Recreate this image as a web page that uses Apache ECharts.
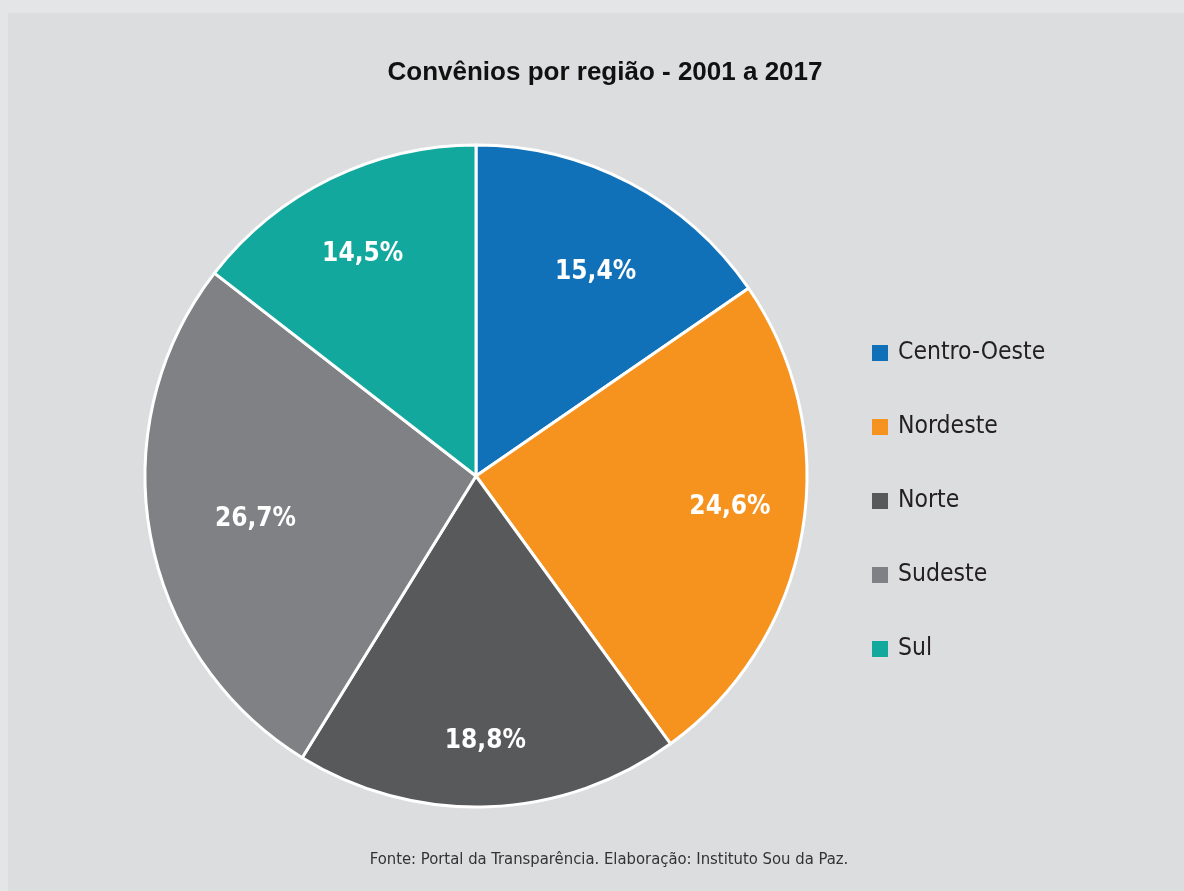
<!DOCTYPE html>
<html>
<head>
<meta charset="utf-8">
<script src="https://cdn.jsdelivr.net/npm/echarts@6/dist/echarts.min.js"></script>
<style>
html,body{margin:0;padding:0;background:#e4e5e7;}
#chart{width:1184px;height:891px;}
</style>
</head>
<body>
<div id="chart"></div>
<script>
const titleText = 'Convênios por região - 2001 a 2017';
const sourceText = 'Fonte: Portal da Transparência. Elaboração: Instituto Sou da Paz.';
const categories = ['Centro-Oeste', 'Nordeste', 'Norte', 'Sudeste', 'Sul'];
const values = [15.4, 24.6, 18.8, 26.7, 14.5];

// styling (not data)
const colors = ['#1071b9', '#f6921e', '#58595b', '#808184', '#13a89e'];
const labelOffsets = [[4, 16], [9, -11], [0, 17], [24, -1], [-4, 1]];

const condensed = '"Liberation Sans Narrow", "DejaVu Sans Condensed", "Arial Narrow", sans-serif';
const fmt = p => p.value.toFixed(1).replace('.', ',') + '%';

const chart = echarts.init(document.getElementById('chart'), null, { renderer: 'canvas' });
chart.setOption({
  animation: false,
  backgroundColor: '#e4e5e7',
  graphic: [{
    type: 'rect', z: -10, silent: true,
    shape: { x: 8, y: 13, width: 1176, height: 878 },
    style: { fill: '#dcdddf' }
  }],
  title: [{
    text: titleText,
    left: 600, top: 55, textAlign: 'center',
    textStyle: { fontFamily: '"Liberation Sans", Arial, sans-serif', fontWeight: 'bold', fontSize: 26, color: '#111111' }
  }, {
    text: sourceText,
    left: 604, top: 846, textAlign: 'center',
    textStyle: { fontFamily: condensed, fontWeight: 'normal', fontSize: 16.5, color: '#333333' }
  }],
  legend: {
    orient: 'vertical',
    left: 867, top: 335,
    icon: 'rect',
    itemWidth: 16, itemHeight: 16,
    itemGap: 48,
    data: categories,
    itemStyle: { borderWidth: 0 },
    textStyle: { fontFamily: condensed, fontSize: 24.5, lineHeight: 26, color: '#231f20', padding: [0, 0, 0, 5] }
  },
  series: [{
    type: 'pie',
    center: [476, 476],
    radius: [0, 331],
    startAngle: 90,
    clockwise: true,
    data: categories.map((c, i) => ({ name: c, value: values[i], itemStyle: { color: colors[i] } })),
    itemStyle: { borderColor: '#ffffff', borderWidth: 3 },
    label: { show: false },
    labelLine: { show: false },
    emphasis: { disabled: true }
  }, {
    type: 'pie',
    center: [476, 476],
    radius: [160, 331],
    startAngle: 90,
    clockwise: true,
    silent: true,
    legendHoverLink: false,
    data: categories.map((c, i) => ({ name: c, value: values[i], label: { offset: labelOffsets[i] } })),
    itemStyle: { color: 'rgba(0,0,0,0)', borderWidth: 0 },
    label: {
      show: true, position: 'inside', formatter: fmt,
      fontFamily: condensed, fontWeight: 'bold', fontSize: 26, color: '#ffffff'
    },
    labelLine: { show: false },
    emphasis: { disabled: true }
  }]
});
</script>
</body>
</html>
